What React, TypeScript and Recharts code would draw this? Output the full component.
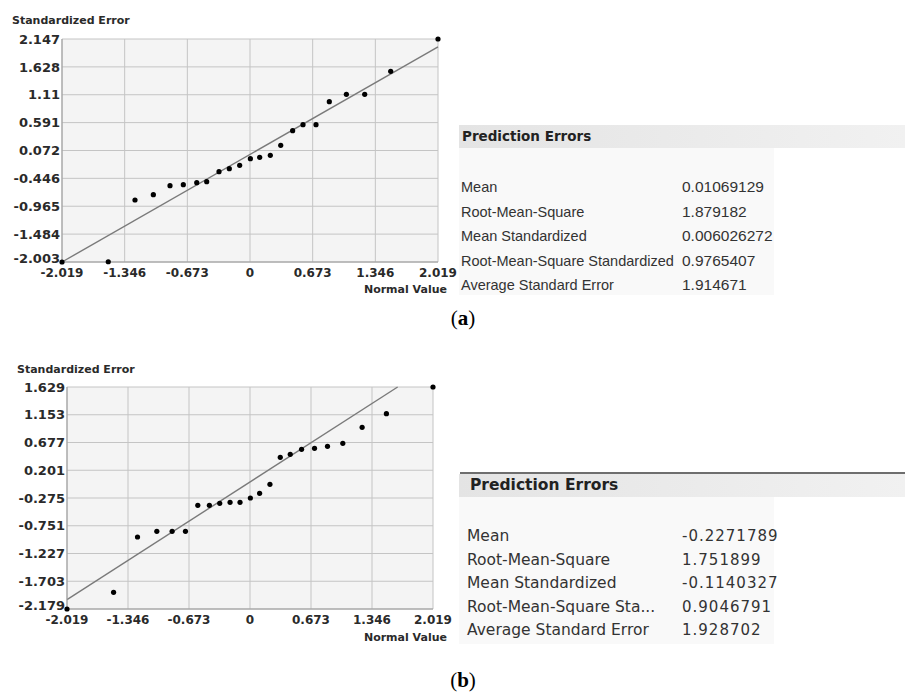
import React from 'react'
import { ScatterChart, Scatter, XAxis, YAxis, CartesianGrid, ReferenceLine } from 'recharts'

// (a) normal QQ plot
const normalA = [-2.019, -1.522, -1.235, -1.038, -0.859, -0.716, -0.572, -0.465, -0.333, -0.222, -0.111, 0.004, 0.104, 0.218, 0.33, 0.458, 0.569, 0.709, 0.852, 1.035, 1.232, 1.511, 2.019]
const errorA = [-2.003, -1.998, -0.849, -0.75, -0.583, -0.564, -0.527, -0.508, -0.322, -0.266, -0.204, -0.08, -0.055, -0.018, 0.168, 0.441, 0.553, 0.553, 0.981, 1.117, 1.117, 1.545, 2.147]
const yTicksA = [-2.003, -1.484, -0.965, -0.446, 0.072, 0.591, 1.11, 1.628, 2.147]
const refLineA = [{ x: -2.019, y: -2.003 }, { x: 2.019, y: 2.0 }]

// (b) normal QQ plot
const normalB = [-2.019, -1.505, -1.241, -1.028, -0.859, -0.712, -0.576, -0.448, -0.334, -0.22, -0.11, 0.004, 0.106, 0.22, 0.334, 0.444, 0.569, 0.712, 0.855, 1.024, 1.237, 1.505, 2.019]
const errorB = [-2.179, -1.893, -0.944, -0.847, -0.847, -0.847, -0.401, -0.401, -0.367, -0.349, -0.349, -0.275, -0.195, -0.041, 0.423, 0.474, 0.56, 0.577, 0.611, 0.663, 0.937, 1.172, 1.629]
const yTicksB = [-2.179, -1.703, -1.227, -0.751, -0.275, 0.201, 0.677, 1.153, 1.629]
const refLineB = [{ x: -2.019, y: -2.019 }, { x: 1.629, y: 1.629 }]

const xTicks = [-2.019, -1.346, -0.673, 0, 0.673, 1.346, 2.019]

// prediction error tables
const statLabelsA = ['Mean', 'Root-Mean-Square', 'Mean Standardized', 'Root-Mean-Square Standardized', 'Average Standard Error']
const statValuesA = ['0.01069129', '1.879182', '0.006026272', '0.9765407', '1.914671']
const statLabelsB = ['Mean', 'Root-Mean-Square', 'Mean Standardized', 'Root-Mean-Square Sta...', 'Average Standard Error']
const statValuesB = ['-0.2271789', '1.751899', '-0.1140327', '0.9046791', '1.928702']

const AXIS_FONT = 'DejaVu Sans'

const Dot = (props: any) => <circle cx={props.cx} cy={props.cy} r={2.6} fill="#000" />

// bottom y label sits a little above the axis line, like the original
const YTick = (props: any) => {
  const { x, y, payload, index } = props
  return (
    <text
      x={x}
      y={index === 0 ? y - 4 : y}
      dy="0.36em"
      textAnchor="end"
      fontSize={13}
      fontWeight={700}
      fill="#2a2a2a"
      fontFamily={AXIS_FONT}
    >
      {payload.value}
    </text>
  )
}

interface QQProps {
  xs: number[]
  ys: number[]
  yTicks: number[]
  refLine: Array<{ x: number; y: number }>
  width: number
  height: number
  margin: { top: number; right: number; left: number; bottom: number }
  yAxisWidth: number
  xAxisHeight: number
}

function QQChart({ xs, ys, yTicks, refLine, width, height, margin, yAxisWidth, xAxisHeight }: QQProps) {
  const data = xs.map((x, i) => ({ x, y: ys[i] }))
  return (
    <ScatterChart width={width} height={height} margin={margin}>
      <CartesianGrid stroke="#c4c4c4" fill="#f4f4f4" strokeWidth={1} />
      <XAxis
        type="number"
        dataKey="x"
        domain={[xTicks[0], xTicks[xTicks.length - 1]]}
        ticks={xTicks}
        interval={0}
        height={xAxisHeight}
        tickSize={0}
        tickMargin={6}
        axisLine={{ stroke: '#9a9a9a' }}
        tick={{ fontSize: 12, fontWeight: 700, fill: '#2a2a2a', fontFamily: AXIS_FONT }}
      />
      <YAxis
        type="number"
        dataKey="y"
        domain={[yTicks[0], yTicks[yTicks.length - 1]]}
        ticks={yTicks}
        interval={0}
        width={yAxisWidth}
        tickSize={0}
        tickMargin={2}
        axisLine={{ stroke: '#9a9a9a' }}
        tick={YTick}
      />
      <ReferenceLine segment={refLine} stroke="#7a7a7a" strokeWidth={1.4} />
      <Scatter data={data} shape={Dot} isAnimationActive={false} />
    </ScatterChart>
  )
}

function StatsTable({ top, labels, values, style }: { top: number; labels: string[]; values: string[]; style: 'a' | 'b' }) {
  const a = style === 'a'
  const rowTop = top + 62
  const step = a ? 24.5 : 23.5
  const labelX = a ? 461 : 467
  const rowFont = a ? 'Liberation Sans' : 'DejaVu Sans'
  return (
    <>
      {!a && <div style={{ position: 'absolute', left: 460, top: top - 2, width: 445, height: 2, background: '#6e6e6e' }} />}
      <div
        style={{
          position: 'absolute',
          left: 459,
          top,
          width: 446,
          height: 23,
          background: 'linear-gradient(to right, #e4e4e4, #f1f1f1)',
        }}
      />
      <div
        style={{
          position: 'absolute',
          left: 459,
          top: top + 23,
          width: 315,
          height: 147,
          background: '#f9f9f9',
        }}
      />
      <div
        style={{
          position: 'absolute',
          left: a ? 462 : 470,
          top,
          height: 23,
          lineHeight: '23px',
          fontFamily: 'DejaVu Sans',
          fontWeight: 700,
          fontSize: a ? 13.5 : 15.5,
          color: '#222',
        }}
      >
        Prediction Errors
      </div>
      {labels.map((l, i) => (
        <React.Fragment key={l}>
          <div
            style={{
              position: 'absolute',
              left: labelX,
              top: rowTop + i * step - 10,
              lineHeight: '20px',
              fontFamily: rowFont,
              fontSize: a ? 14.5 : 15.5,
              color: '#333',
              whiteSpace: 'nowrap',
            }}
          >
            {l}
          </div>
          <div
            style={{
              position: 'absolute',
              left: 682,
              top: rowTop + i * step - 10,
              lineHeight: '20px',
              fontFamily: rowFont,
              fontSize: a ? 15.5 : 15,
              letterSpacing: a ? 0 : 1,
              color: '#333',
              whiteSpace: 'nowrap',
            }}
          >
            {values[i]}
          </div>
        </React.Fragment>
      ))}
    </>
  )
}

const axisTitle: React.CSSProperties = {
  position: 'absolute',
  fontFamily: AXIS_FONT,
  fontWeight: 700,
  fontSize: 11,
  color: '#2a2a2a',
  whiteSpace: 'nowrap',
  lineHeight: '14px',
}

const panelLabel: React.CSSProperties = {
  position: 'absolute',
  width: 60,
  textAlign: 'center',
  fontFamily: 'Liberation Serif',
  fontSize: 21,
  color: '#000',
  lineHeight: '20px',
}

export default function App() {
  return (
    <div style={{ position: 'relative', width: 905, height: 692, background: '#fff', overflow: 'hidden' }}>
      <style>{'body{margin:0}'}</style>

      <div style={{ ...axisTitle, left: 12, top: 14 }}>Standardized Error</div>
      <div style={{ position: 'absolute', left: 0, top: 0 }}>
        <QQChart
          xs={normalA}
          ys={errorA}
          yTicks={yTicksA}
          refLine={refLineA}
          width={470}
          height={300}
          margin={{ top: 39, right: 32, left: 0, bottom: 0 }}
          yAxisWidth={62}
          xAxisHeight={38}
        />
      </div>
      <div style={{ ...axisTitle, left: 447 - 90, width: 90, textAlign: 'right', top: 283 }}>Normal Value</div>
      <StatsTable top={125} labels={statLabelsA} values={statValuesA} style="a" />
      <div style={{ ...panelLabel, left: 433, top: 308 }}>
        (<b>a</b>)
      </div>

      <div style={{ ...axisTitle, left: 17, top: 363 }}>Standardized Error</div>
      <div style={{ position: 'absolute', left: 0, top: 340 }}>
        <QQChart
          xs={normalB}
          ys={errorB}
          yTicks={yTicksB}
          refLine={refLineB}
          width={470}
          height={310}
          margin={{ top: 47, right: 37, left: 0, bottom: 0 }}
          yAxisWidth={67}
          xAxisHeight={41}
        />
      </div>
      <div style={{ ...axisTitle, left: 447 - 90, width: 90, textAlign: 'right', top: 631 }}>Normal Value</div>
      <StatsTable top={474} labels={statLabelsB} values={statValuesB} style="b" />
      <div style={{ ...panelLabel, left: 433, top: 670 }}>
        (<b>b</b>)
      </div>
    </div>
  )
}
